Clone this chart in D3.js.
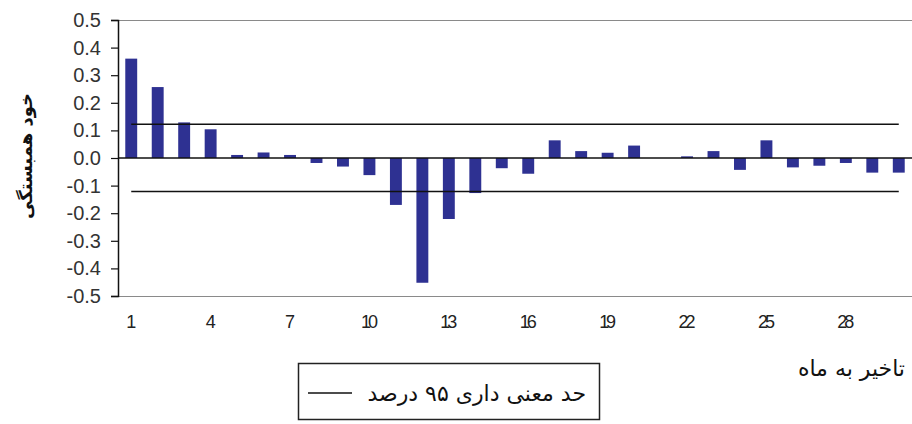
<!DOCTYPE html>
<html>
<head>
<meta charset="utf-8">
<script src="https://cdn.jsdelivr.net/npm/d3@7"></script>
<style>
  body { margin: 0; background: #fff; }
  svg { display: block; }
</style>
</head>
<body>
<div id="chart"></div>
<script>
// ضرایب خودهمبستگی بر حسب تاخیر
const lags = d3.range(1, 31);
const acf = [0.36, 0.257, 0.129, 0.104, 0.011, 0.02, 0.011, -0.018, -0.031, -0.062,
             -0.17, -0.452, -0.221, -0.127, -0.037, -0.057, 0.064, 0.025, 0.019, 0.045,
             0, 0.006, 0.025, -0.043, 0.064, -0.034, -0.028, -0.018, -0.053, -0.053];
const upperBound = lags.map(() => 0.122);
const lowerBound = lags.map(() => -0.121);
const yTicks = [0.5, 0.4, 0.3, 0.2, 0.1, 0, -0.1, -0.2, -0.3, -0.4, -0.5];
const xTickLabels = [1, 4, 7, 10, 13, 16, 19, 22, 25, 28];

const width = 912;
const height = 424;
const margin = { top: 20, right: 0, bottom: 128, left: 118 };

const svg = d3.select("#chart")
  .append("svg")
  .attr("width", width)
  .attr("height", height);

const x = d3.scaleBand()
  .domain(lags)
  .range([margin.left, width - margin.right])
  .paddingInner(0.55)
  .paddingOuter(0.275);

const y = d3.scaleLinear()
  .domain([-0.5, 0.5])
  .range([height - margin.bottom, margin.top]);

const fmt = d3.formatLocale({ decimal: ".", thousands: ",", grouping: [3], currency: ["", ""], minus: "-" }).format(".1f");

// قاب بالا و پایین
svg.append("g")
  .selectAll("line")
  .data([0.5, -0.5])
  .join("line")
  .attr("x1", margin.left)
  .attr("x2", width)
  .attr("y1", d => y(d) + 0.5)
  .attr("y2", d => y(d) + 0.5)
  .attr("stroke", "#8a8a8a")
  .attr("stroke-width", 1.2);

// محور عمودی
const yAxis = svg.append("g")
  .attr("transform", `translate(${margin.left},0)`)
  .call(d3.axisLeft(y).tickValues(yTicks).tickFormat(fmt).tickSize(7).tickPadding(10));
yAxis.select(".domain").attr("stroke", "#111").attr("stroke-width", 1.5);
yAxis.selectAll(".tick line").attr("stroke", "#111").attr("stroke-width", 1.2);
yAxis.selectAll("text")
  .attr("font-family", "Liberation Sans, Arial, sans-serif")
  .attr("font-size", 20)
  .attr("fill", "#333");

// ستون‌ها
svg.append("g")
  .selectAll("rect")
  .data(lags)
  .join("rect")
  .attr("x", d => x(d))
  .attr("width", x.bandwidth())
  .attr("y", (d, i) => Math.min(y(acf[i]), y(0)))
  .attr("height", (d, i) => Math.abs(y(acf[i]) - y(0)))
  .attr("fill", "#2e3192");

// خط صفر
svg.append("line")
  .attr("x1", margin.left)
  .attr("x2", width)
  .attr("y1", y(0))
  .attr("y2", y(0))
  .attr("stroke", "#111")
  .attr("stroke-width", 1.5);

// حد معنی داری
const line = d3.line()
  .x((d, i) => x(lags[i]) + x.bandwidth() / 2)
  .y(d => y(d));

svg.append("g")
  .selectAll("path")
  .data([upperBound, lowerBound])
  .join("path")
  .attr("d", line)
  .attr("fill", "none")
  .attr("stroke", "#111")
  .attr("stroke-width", 1.5);

// برچسب‌های محور افقی
svg.append("g")
  .selectAll("text")
  .data(xTickLabels)
  .join("text")
  .attr("x", d => x(d) + x.bandwidth() / 2)
  .attr("y", 328)
  .attr("text-anchor", "middle")
  .attr("font-family", "Liberation Sans Narrow, Arial Narrow, Liberation Sans, sans-serif")
  .attr("font-size", 18)
  .attr("fill", "#222")
  .attr("textLength", d => d < 10 ? null : 17)
  .text(d => d);

// عنوان محورها
svg.append("text")
  .attr("x", 905)
  .attr("y", 376)
  .attr("text-anchor", "end")
  .attr("font-family", "DejaVu Sans, sans-serif")
  .attr("font-size", 22)
  .attr("fill", "#111")
  .text("تاخیر به ماه");

svg.append("text")
  .attr("transform", "translate(32,156) rotate(-90)")
  .attr("text-anchor", "middle")
  .attr("font-family", "DejaVu Sans, sans-serif")
  .attr("font-weight", "bold")
  .attr("font-size", 18)
  .attr("fill", "#111")
  .text("خود همبستگی");

// راهنما
const legend = svg.append("g");
legend.append("rect")
  .attr("x", 298.5)
  .attr("y", 363.5)
  .attr("width", 301)
  .attr("height", 56)
  .attr("fill", "#fff")
  .attr("stroke", "#222")
  .attr("stroke-width", 1.5);
legend.append("line")
  .attr("x1", 308)
  .attr("x2", 352)
  .attr("y1", 393)
  .attr("y2", 393)
  .attr("stroke", "#111")
  .attr("stroke-width", 1.5);
legend.append("text")
  .attr("x", 586)
  .attr("y", 401)
  .attr("text-anchor", "end")
  .attr("font-family", "DejaVu Sans, sans-serif")
  .attr("font-size", 22)
  .attr("fill", "#111")
  .text("حد معنی داری ۹۵ درصد");
</script>
</body>
</html>
